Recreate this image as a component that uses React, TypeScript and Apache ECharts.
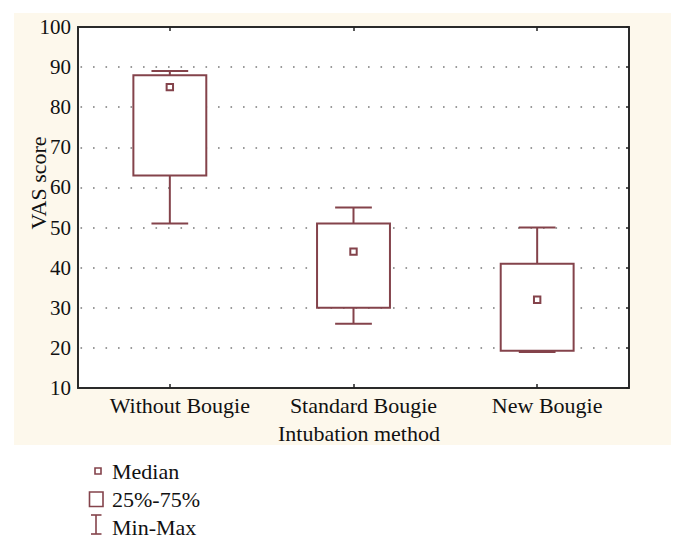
import React, { useEffect, useRef } from "react";
import * as echarts from "echarts";

const categories = ["Without Bougie", "Standard Bougie", "New Bougie"];
const minValues = [51, 26, 19];
const q1Values = [63, 30, 19.3];
const medianValues = [85, 44, 32];
const q3Values = [88, 51, 41];
const maxValues = [89, 55, 50];
const yMin = 10;
const yMax = 100;
const yStep = 10;
const yAxisTitle = "VAS score";
const xAxisTitle = "Intubation method";
const legendLabels = ["Median", "25%-75%", "Min-Max"];

const BOX = "#84434b";
const FONT = "Liberation Serif";

export default function App() {
  const ref = useRef<HTMLDivElement>(null);
  useEffect(() => {
    if (!ref.current) return;
    const chart = echarts.init(ref.current, null, { renderer: "svg" });
    const data = categories.map((_, i) => [
      i,
      minValues[i],
      q1Values[i],
      medianValues[i],
      q3Values[i],
      maxValues[i],
    ]);
    const tick = { show: true, inside: true, alignWithLabel: true, length: 4, lineStyle: { color: "#222", width: 1.5 } };
    const frame = { show: true, lineStyle: { color: "#2a2a2a", width: 2 } };
    const option: any = {
      animation: false,
      backgroundColor: "#ffffff",
      textStyle: { fontFamily: FONT },
      grid: {
        left: 78,
        top: 27,
        width: 551,
        height: 361,
        show: true,
        backgroundColor: "#ffffff",
        borderWidth: 0,
      },
      xAxis: [
        {
          type: "category",
          data: categories,
          z: 3,
          axisLine: frame,
          axisTick: tick,
          axisLabel: {
            interval: 0,
            color: "#111",
            fontFamily: FONT,
            fontSize: 22,
            margin: 6,
            padding: [0, 0, 0, 20],
          },
          splitLine: { show: false },
        },
        {
          type: "category",
          position: "top",
          data: categories,
          z: 3,
          axisLine: frame,
          axisTick: tick,
          axisLabel: { show: false },
          splitLine: { show: false },
        },
      ],
      yAxis: [
        {
          type: "value",
          min: yMin,
          max: yMax,
          interval: yStep,
          z: 2,
          axisLine: frame,
          axisTick: { show: false },
          axisLabel: { color: "#111", fontFamily: FONT, fontSize: 21, margin: 7 },
          splitLine: {
            show: true,
            lineStyle: { color: "#7a7a7a", width: 1.6, type: [1.6, 10.9], dashOffset: 10.3 },
          },
        },
        {
          type: "value",
          position: "right",
          min: yMin,
          max: yMax,
          interval: yStep,
          z: 3,
          axisLine: frame,
          axisTick: { show: true, inside: true, length: 3, lineStyle: { color: "#222", width: 1.5 } },
          axisLabel: { show: false },
          splitLine: { show: false },
        },
      ],
      series: [
        {
          type: "custom",
          xAxisIndex: 0,
          yAxisIndex: 0,
          z: 5,
          data,
          encode: { x: 0, y: [1, 2, 3, 4, 5] },
          renderItem: (params: any, api: any) => {
            const i = api.value(0);
            const xc = api.coord([i, yMin])[0];
            const band = api.size([1, 0])[0];
            const boxW = band * 0.397;
            const capW = band * 0.2;
            const yMinP = api.coord([i, api.value(1)])[1];
            const yQ1 = api.coord([i, api.value(2)])[1];
            const yMed = api.coord([i, api.value(3)])[1];
            const yQ3 = api.coord([i, api.value(4)])[1];
            const yMaxP = api.coord([i, api.value(5)])[1];
            const ls = { stroke: BOX, lineWidth: 2, fill: null };
            const m = 3.2;
            return {
              type: "group",
              children: [
                { type: "line", shape: { x1: xc, y1: yQ3, x2: xc, y2: yMaxP }, style: ls },
                { type: "line", shape: { x1: xc - capW / 2, y1: yMaxP, x2: xc + capW / 2, y2: yMaxP }, style: ls },
                { type: "line", shape: { x1: xc, y1: yQ1, x2: xc, y2: yMinP }, style: ls },
                { type: "line", shape: { x1: xc - capW / 2, y1: yMinP, x2: xc + capW / 2, y2: yMinP }, style: ls },
                {
                  type: "rect",
                  shape: { x: xc - boxW / 2, y: yQ3, width: boxW, height: yQ1 - yQ3 },
                  style: { stroke: BOX, lineWidth: 2, fill: "#ffffff" },
                },
                {
                  type: "rect",
                  shape: { x: xc - m, y: yMed - m, width: 2 * m, height: 2 * m },
                  style: { stroke: BOX, lineWidth: 2, fill: "#ffffff" },
                },
              ],
            };
          },
        },
      ],
      graphic: [
        {
          type: "rect",
          z: -10,
          silent: true,
          shape: { x: 14, y: 13, width: 657, height: 432 },
          style: { fill: "#fdf8ec" },
        },
        {
          type: "text",
          x: 38,
          y: 183,
          rotation: Math.PI / 2,
          style: {
            text: yAxisTitle,
            font: `22px "${FONT}"`,
            fill: "#111",
            textAlign: "center",
            textVerticalAlign: "middle",
          },
        },
        {
          type: "text",
          x: 359,
          y: 433,
          style: {
            text: xAxisTitle,
            font: `22px "${FONT}"`,
            fill: "#111",
            textAlign: "center",
            textVerticalAlign: "middle",
          },
        },
        {
          type: "rect",
          shape: { x: 95, y: 468, width: 6, height: 6 },
          style: { stroke: BOX, lineWidth: 1.6, fill: "#fff" },
        },
        {
          type: "rect",
          shape: { x: 89.5, y: 492, width: 13.5, height: 14.5 },
          style: { stroke: BOX, lineWidth: 1.6, fill: "#fff" },
        },
        { type: "line", shape: { x1: 96, y1: 515, x2: 96, y2: 534 }, style: { stroke: BOX, lineWidth: 1.6 } },
        { type: "line", shape: { x1: 91, y1: 515, x2: 101.5, y2: 515 }, style: { stroke: BOX, lineWidth: 1.6 } },
        { type: "line", shape: { x1: 91, y1: 534, x2: 101.5, y2: 534 }, style: { stroke: BOX, lineWidth: 1.6 } },
        ...legendLabels.map((t, k) => ({
          type: "text",
          x: 112,
          y: 471 + k * 28,
          style: {
            text: t,
            font: `22px "${FONT}"`,
            fill: "#111",
            textAlign: "left",
            textVerticalAlign: "middle",
          },
        })),
      ],
    };
    chart.setOption(option);
    return () => chart.dispose();
  }, []);
  return (
    <div
      ref={ref}
      style={{ position: "fixed", left: 0, top: 0, width: 685, height: 549 }}
    />
  );
}
